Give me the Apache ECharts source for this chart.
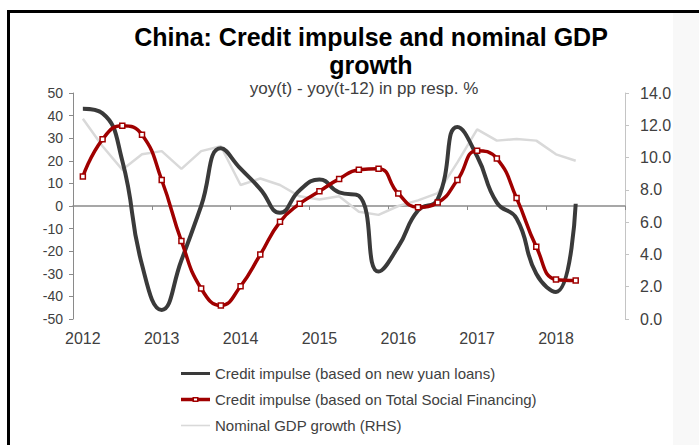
<!DOCTYPE html>
<html>
<head>
<meta charset="utf-8">
<script src="https://cdn.jsdelivr.net/npm/echarts@6/dist/echarts.min.js"></script>
<style>
  html, body { margin: 0; padding: 0; background: #ffffff; }
  #chart { width: 699px; height: 445px; }
</style>
</head>
<body>
<div id="chart"></div>
<script>
// Quarterly observations, 2012 Q1 – 2018 Q2 (axis runs to the end of 2018)
const years = ['2012', '2013', '2014', '2015', '2016', '2017', '2018'];
const quarterNames = ['Q1', 'Q2', 'Q3', 'Q4'];

// Credit impulse based on new yuan loans (pp, LHS)
const yuanLoans = [43, 41, 20, -26, -46, -24, 0, 25.5, 16.5, 7.5, -3, 7, 11.7, 6,
  4.5, -29, -18, -2, 3, 35, 22, 1.5, -5.5, -30, -38, 1];

// Credit impulse based on Total Social Financing (pp, LHS)
const totalSocialFinancing = [13, 29.5, 35.5, 31.5, 11.5, -15.5, -36.5, -44, -35.5, -21.5,
  -7, 1, 6.5, 12, 16, 16.5, 5.5, -0.5, 1.5, 11.5, 24.5, 21, 3.5, -18, -32.5, -33];

// Nominal GDP growth, % yoy (RHS)
const nominalGdp = [12.4, 10.7, 9.25, 10.2, 10.4, 9.3, 10.4, 10.7, 8.3, 8.7, 8.3, 7.6,
  7.4, 7.6, 6.65, 6.45, 7.0, 7.35, 7.8, 9.7, 11.75, 11.05, 11.15, 11.05, 10.2, 9.8];

// Tick labels
const leftTicks = { min: -50, max: 50, step: 10 };
const rightTicks = { min: 0, max: 14, step: 2 };

const seriesNames = [
  'Credit impulse (based on new yuan loans)',
  'Credit impulse (based on Total Social Financing)',
  'Nominal GDP growth (RHS)'
];

const quarters = [];
years.forEach(y => quarterNames.forEach(q => quarters.push(y + ' ' + q)));

const FONT = "'Liberation Sans', Arial, sans-serif";
const TEXT = '#404040';
const BLACK = '#3a3a3a';
const RED = '#a00000';
const GREY = '#d9d9d9';

// Legend keys: plain strokes, and a stroke with a hollow square marker
const KEY_BOX = 'M0,0M29,14';
const keyLine = (h) => 'path://' + KEY_BOX + 'M0,' + (7 - h / 2) + 'H29V' + (7 + h / 2) + 'H0Z';
const keyMarkedLine = 'path://' + KEY_BOX +
  'M0,5.3H12V8.7H0Z' +
  'M17,5.3H29V8.7H17Z' +
  'M11.5,4.5H17.5V9.5H11.5Z' +
  'M13,6V8H16V6Z';

const chart = echarts.init(document.getElementById('chart'), null, { renderer: 'svg' });

chart.setOption({
  backgroundColor: '#ffffff',
  animation: false,
  textStyle: { fontFamily: FONT },
  graphic: [
    { type: 'rect', shape: { x: 673, y: 12, width: 26, height: 433 },
      style: { fill: '#f8f8f8' }, silent: true },
    { type: 'line', shape: { x1: 7, y1: 11.5, x2: 699, y2: 11.5 },
      style: { stroke: '#000', lineWidth: 3 }, silent: true },
    { type: 'line', shape: { x1: 8.5, y1: 10, x2: 8.5, y2: 445 },
      style: { stroke: '#000', lineWidth: 3 }, silent: true },
    { type: 'text', silent: true,
      style: { x: 371, y: 23, text: 'China: Credit impulse and nominal GDP\ngrowth',
        textAlign: 'center', font: "bold 25px " + FONT, fill: '#000', lineHeight: 28 } },
    { type: 'text', silent: true,
      style: { x: 364, y: 80, text: 'yoy(t) - yoy(t-12) in pp resp. %',
        textAlign: 'center', font: "17px " + FONT, fill: TEXT } }
  ],
  grid: { left: 73, right: 74, top: 93, bottom: 126, containLabel: false },
  legend: {
    orient: 'vertical', left: 181, top: 366, padding: 0,
    itemWidth: 29, itemHeight: 14, itemGap: 11,
    textStyle: { fontSize: 15, color: TEXT, fontFamily: FONT },
    data: [
      { name: seriesNames[0], icon: keyLine(3), itemStyle: { color: BLACK, borderWidth: 0 } },
      { name: seriesNames[1], icon: keyMarkedLine, itemStyle: { color: RED, borderWidth: 0 } },
      { name: seriesNames[2], icon: keyLine(1.6), itemStyle: { color: GREY, borderWidth: 0 } }
    ]
  },
  xAxis: [
    {
      type: 'category', data: quarters, boundaryGap: true,
      axisLine: { onZero: true, onZeroAxisIndex: 0, lineStyle: { color: '#8a8a8a', width: 1.5 } },
      axisTick: { show: true, interval: 3, length: 4, lineStyle: { color: '#8a8a8a' } },
      axisLabel: { show: false },
      splitLine: { show: false }
    },
    {
      type: 'category', data: quarters, boundaryGap: true, position: 'bottom',
      axisLine: { show: false, onZero: false },
      axisTick: { show: false },
      axisLabel: { interval: 3, fontSize: 16, color: TEXT, margin: 11,
        formatter: v => v.slice(0, 4) },
      splitLine: { show: false }
    }
  ],
  yAxis: [
    {
      type: 'value', position: 'left',
      min: leftTicks.min, max: leftTicks.max, interval: leftTicks.step,
      axisLine: { show: true, lineStyle: { color: '#8a8a8a', width: 1 } },
      axisTick: { show: true, length: 4, lineStyle: { color: '#8a8a8a' } },
      axisLabel: { fontSize: 14, color: TEXT, margin: 10 },
      splitLine: { show: false }
    },
    {
      type: 'value', position: 'right',
      min: rightTicks.min, max: rightTicks.max, interval: rightTicks.step,
      axisLine: { show: true, lineStyle: { color: '#c4c4c4', width: 1 } },
      axisTick: { show: true, length: 4, lineStyle: { color: '#c4c4c4' } },
      axisLabel: { fontSize: 16, color: TEXT, margin: 15, formatter: v => v.toFixed(1) },
      splitLine: { show: false }
    }
  ],
  series: [
    {
      name: seriesNames[0], type: 'line',
      data: yuanLoans, yAxisIndex: 0, xAxisIndex: 0,
      smooth: 0.5, symbol: 'none', z: 3,
      lineStyle: { color: BLACK, width: 4 },
      itemStyle: { color: BLACK }
    },
    {
      name: seriesNames[1], type: 'line',
      data: totalSocialFinancing, yAxisIndex: 0, xAxisIndex: 0,
      smooth: 0.5, symbol: 'rect', symbolSize: 5, showAllSymbol: true, z: 4,
      lineStyle: { color: RED, width: 3.5 },
      itemStyle: { color: '#ffffff', borderColor: RED, borderWidth: 1.5 }
    },
    {
      name: seriesNames[2], type: 'line',
      data: nominalGdp, yAxisIndex: 1, xAxisIndex: 0,
      smooth: false, symbol: 'none', z: 2,
      lineStyle: { color: GREY, width: 2.5 },
      itemStyle: { color: GREY }
    }
  ]
});
</script>
</body>
</html>
